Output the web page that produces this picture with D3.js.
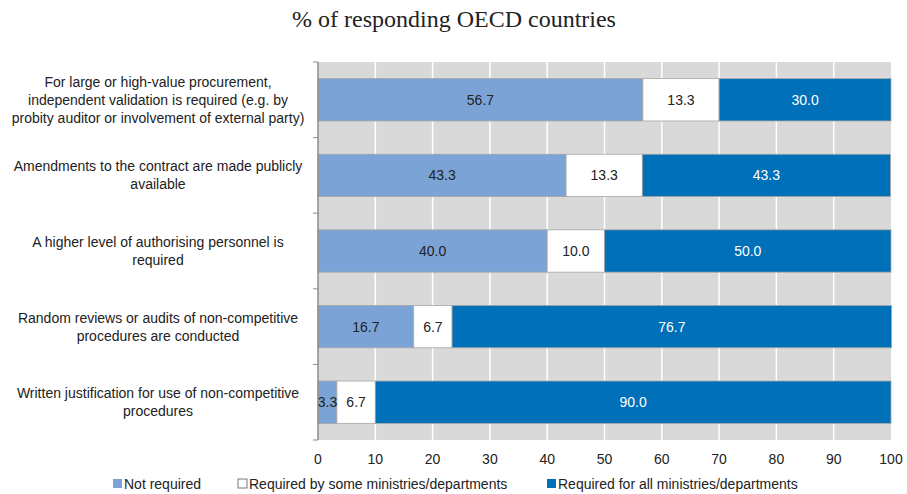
<!DOCTYPE html>
<html>
<head>
<meta charset="utf-8">
<script src="https://cdn.jsdelivr.net/npm/d3@7"></script>
<style>
  body { margin: 0; background: #fff; }
  text { font-family: "Liberation Sans", Arial, sans-serif; }
</style>
</head>
<body>
<svg id="chart" width="907" height="494"></svg>
<script>
// data
const categories = [
  ["For large or high-value procurement,", "independent validation is required (e.g. by", "probity auditor or involvement of external party)"],
  ["Amendments to the contract are made publicly", "available"],
  ["A higher level of authorising personnel is", "required"],
  ["Random reviews or audits of non-competitive", "procedures are conducted"],
  ["Written justification for use of non-competitive", "procedures"]
];
const notRequired = [56.7, 43.3, 40.0, 16.7, 3.3];
const someRequired = [13.3, 13.3, 10.0, 6.7, 6.7];
const allRequired = [30.0, 43.3, 50.0, 76.7, 90.0];
const seriesNames = ["Not required", "Required by some ministries/departments", "Required for all ministries/departments"];
const xTicks = [0, 10, 20, 30, 40, 50, 60, 70, 80, 90, 100];

const colors = ["#7ba3d6", "#ffffff", "#0070b8"];
const textColors = ["#222", "#222", "#fff"];

const svg = d3.select("#chart");
const plotLeft = 318, plotRight = 891, plotTop = 62, plotBottom = 440;

const x = d3.scaleLinear().domain([0, 100]).range([plotLeft, plotRight]);
const y = d3.scaleBand().domain(d3.range(categories.length)).range([plotTop, plotBottom]).paddingInner(0.44).paddingOuter(0.22);
const yOuter = d3.scaleBand().domain(d3.range(categories.length)).range([plotTop, plotBottom]);

// title
svg.append("text")
  .attr("x", 454).attr("y", 27)
  .attr("text-anchor", "middle")
  .style("font-family", "'Liberation Serif', 'Times New Roman', serif")
  .style("font-size", "24px")
  .attr("fill", "#222")
  .text("% of responding OECD countries");

// plot background
svg.append("rect")
  .attr("x", plotLeft).attr("y", plotTop)
  .attr("width", plotRight - plotLeft).attr("height", plotBottom - plotTop)
  .attr("fill", "#d9d9d9");

// gridlines
svg.append("g")
  .selectAll("line")
  .data(xTicks.slice(1, -1))
  .enter()
  .append("line")
    .attr("x1", d => x(d)).attr("x2", d => x(d))
    .attr("y1", plotTop).attr("y2", plotBottom)
    .attr("stroke", "#fff").attr("stroke-width", 1.5);

// stacked bars
const rows = categories.map((c, i) => [notRequired[i], someRequired[i], allRequired[i]]);
const segs = [];
rows.forEach((r, i) => {
  let acc = 0;
  r.forEach((v, s) => {
    segs.push({ row: i, s: s, x0: acc, x1: acc + v, v: v });
    acc += v;
  });
});

svg.append("g")
  .selectAll("rect")
  .data(segs)
  .enter()
  .append("rect")
    .attr("x", d => x(d.x0))
    .attr("y", d => y(d.row))
    .attr("width", d => x(d.x1) - x(d.x0))
    .attr("height", y.bandwidth())
    .attr("fill", d => colors[d.s])
    .attr("stroke", "#a6a6a6")
    .attr("stroke-width", 0.8);

svg.append("g")
  .selectAll("text")
  .data(segs)
  .enter()
  .append("text")
    .attr("x", d => (x(d.x0) + x(d.x1)) / 2)
    .attr("y", d => y(d.row) + y.bandwidth() / 2 + 5)
    .attr("text-anchor", "middle")
    .style("font-size", "14px")
    .attr("fill", d => textColors[d.s])
    .text(d => d.v.toFixed(1));

// y axis line and ticks
svg.append("line")
  .attr("x1", plotLeft).attr("x2", plotLeft)
  .attr("y1", plotTop).attr("y2", plotBottom)
  .attr("stroke", "#8c8c8c").attr("stroke-width", 1.5);

svg.append("g")
  .selectAll("line")
  .data(d3.range(categories.length + 1))
  .enter()
  .append("line")
    .attr("x1", plotLeft - 5).attr("x2", plotLeft)
    .attr("y1", d => plotTop + d * yOuter.step())
    .attr("y2", d => plotTop + d * yOuter.step())
    .attr("stroke", "#8c8c8c").attr("stroke-width", 1);

// category labels
const lab = svg.append("g")
  .selectAll("text")
  .data(categories)
  .enter()
  .append("text")
    .attr("text-anchor", "middle")
    .style("font-size", "14px")
    .attr("fill", "#222");
lab.each(function(lines, i) {
  const cy = y(i) + y.bandwidth() / 2;
  const lh = 18;
  const y0 = cy - (lines.length - 1) * lh / 2 + 5;
  lines.forEach((l, k) => {
    d3.select(this).append("tspan")
      .attr("x", 158)
      .attr("y", y0 + k * lh)
      .text(l);
  });
});

// x axis labels
svg.append("g")
  .selectAll("text")
  .data(xTicks)
  .enter()
  .append("text")
    .attr("x", d => x(d))
    .attr("y", 464)
    .attr("text-anchor", "middle")
    .style("font-size", "14px")
    .attr("fill", "#222")
    .text(d => d);

// legend
const legendX = [113, 238, 547];
const lg = svg.append("g")
  .selectAll("g")
  .data(seriesNames)
  .enter()
  .append("g")
    .attr("transform", (d, i) => `translate(${legendX[i]},479)`);
lg.append("rect")
  .attr("width", 9).attr("height", 9)
  .attr("fill", (d, i) => colors[i])
  .attr("stroke", (d, i) => i === 1 ? "#555" : "none")
  .attr("stroke-width", 0.8);
lg.append("text")
  .attr("x", 11).attr("y", 10)
  .style("font-size", "14px")
  .attr("fill", "#222")
  .text(d => d);
</script>
</body>
</html>
